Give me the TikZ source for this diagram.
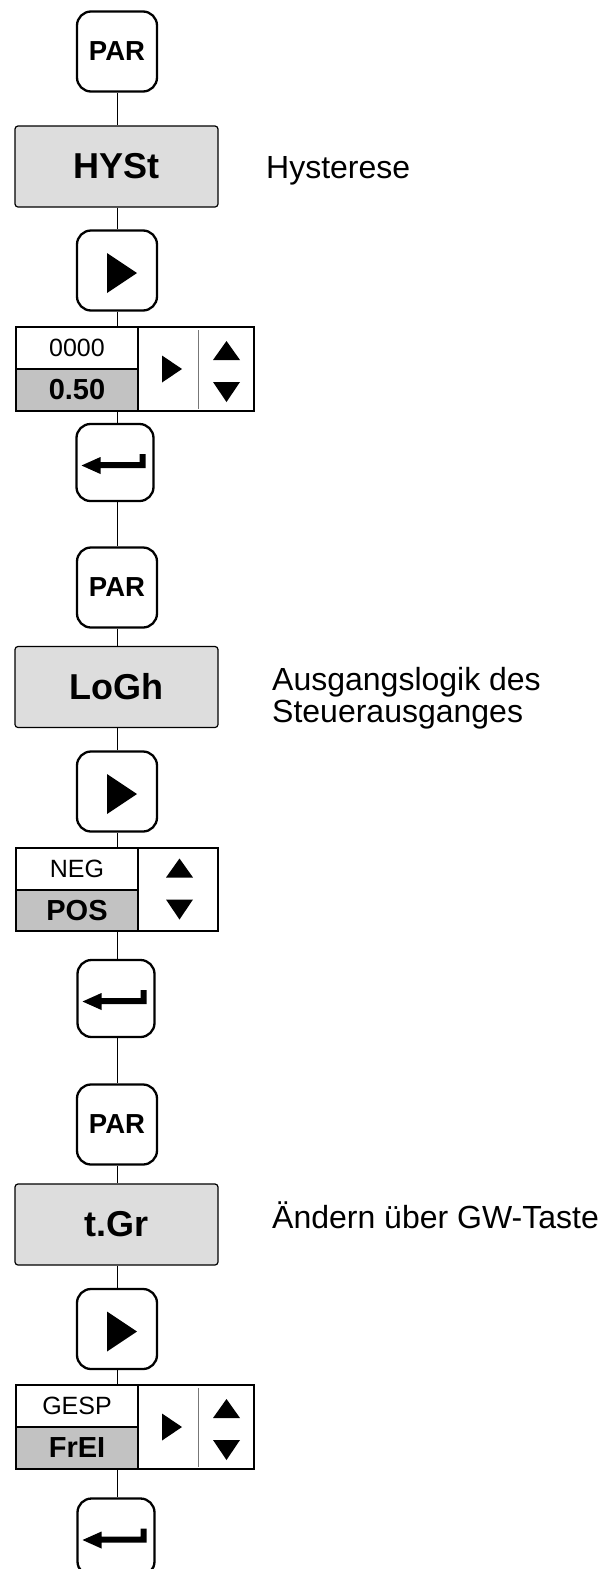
\documentclass[tikz,border=0pt]{standalone}
\usepackage{fontspec}
\setmainfont{Liberation Sans}
\definecolor{paramgray}{HTML}{DDDDDD}
\definecolor{valgray}{HTML}{C2C2C2}
\definecolor{sepgray}{HTML}{777777}
\begin{document}
\begin{tikzpicture}[x=1pt,y=-1pt,
  key/.style={draw, line width=2.3pt, rounded corners=14pt, inner sep=0pt,
    minimum width=80pt, minimum height=80pt,
    font=\fontsize{27.5}{27.5}\selectfont\bfseries},
  enterkey/.style={key, minimum width=77pt, minimum height=77pt},
  param/.style={draw, fill=paramgray, line width=1.2pt, rounded corners=3pt,
    inner sep=0pt, minimum width=203pt, minimum height=81pt,
    font=\fontsize{36}{36}\selectfont\bfseries},
  cell/.style={draw, line width=1.2pt, inner sep=0pt, minimum width=122pt,
    minimum height=42pt, font=\fontsize{25}{25}\selectfont},
  valcell/.style={cell, fill=valgray, font=\fontsize{29}{29}\selectfont\bfseries},
  btncell/.style={draw, line width=1.2pt, inner sep=0pt, minimum height=84pt},
  conn/.style={line width=0.9pt},
  note/.style={anchor=base west, inner sep=0pt, font=\fontsize{32}{32}\selectfont},
  playtri/.pic={\fill (-10,-17.5) -- (-10,22.5) -- (20,2.5) -- cycle;},
  enterarrow/.pic={\fill (-33.5,3) -- (-14.5,-5.5) -- (-14.5,-0.5) -- (24.5,-0.5)
      -- (24.5,-8.5) -- (30.5,-8.5) -- (30.5,5.5) -- (-14.5,5.5) -- (-14.5,11.5) -- cycle;},
  smallplay/.pic={\fill (-10,-13.5) -- (-10,13.5) -- (10,0) -- cycle;},
  uptri/.pic={\fill (-13.5,9.5) -- (13.5,9.5) -- (0,-9.5) -- cycle;},
  downtri/.pic={\fill (-13.5,-10) -- (13.5,-10) -- (0,10) -- cycle;}
]
\useasboundingbox (0,0) rectangle (605,1569);
\coordinate (spine) at (117.5,0);

% ---------- Hysterese ----------
\node[key] (par1) at (117,51.5) {PAR};
\node[param] (hyst) at (116.5,166.5) {HYSt};
\node[note] (note1) at (266,178) {Hysterese};
\node[key] (play1) at (117,270.5) {};
\pic at (play1.center) {playtri};
\node[cell] (top1) at (77,348) {0000};
\node[valcell] (val1) at (77,390) {0.50};
\node[btncell, minimum width=116pt] (btn1) at (196,369) {};
\draw[sepgray, line width=1pt] ([xshift=2pt,yshift=-4pt]btn1.north) -- ([xshift=2pt,yshift=3pt]btn1.south);
\pic at ([xshift=-24pt]btn1.center) {smallplay};
\pic at ([xshift=30.5pt,yshift=18.5pt]btn1.center) {uptri};
\pic at ([xshift=30.5pt,yshift=-23pt]btn1.center) {downtri};
\node[enterkey] (ent1) at (115,462.5) {};
\pic at (ent1.center) {enterarrow};

% ---------- Ausgangslogik ----------
\node[key] (par2) at (117,587.5) {PAR};
\node[param] (logh) at (116.5,687) {LoGh};
\node[note] (note2) at (272,690) {Ausgangslogik des};
\node[note] (note2b) at (272,722) {Steuerausganges};
\node[key] (play2) at (117,791.5) {};
\pic at (play2.center) {playtri};
\node[cell] (top2) at (77,869) {NEG};
\node[valcell, minimum height=41pt] (val2) at (77,910.5) {POS};
\node[btncell, minimum width=80pt, minimum height=83pt] (btn2) at (178,889.5) {};
\pic at ([xshift=1.5pt,yshift=21.5pt]btn2.center) {uptri};
\pic at ([xshift=1.5pt,yshift=-20pt]btn2.center) {downtri};
\node[enterkey] (ent2) at (116,998.5) {};
\pic at (ent2.center) {enterarrow};

% ---------- Tastenfreigabe ----------
\node[key] (par3) at (117,1124.5) {PAR};
\node[param] (tgr) at (116.5,1224.5) {t.Gr};
\node[note] (note3) at (272,1228) {Ändern über GW-Taste};
\node[key] (play3) at (117,1329) {};
\pic at (play3.center) {playtri};
\node[cell] (top3) at (77,1406) {GESP};
\node[valcell] (val3) at (77,1448) {FrEI};
\node[btncell, minimum width=116pt] (btn3) at (196,1427) {};
\draw[sepgray, line width=1pt] ([xshift=2pt,yshift=-4pt]btn3.north) -- ([xshift=2pt,yshift=3pt]btn3.south);
\pic at ([xshift=-24pt]btn3.center) {smallplay};
\pic at ([xshift=30.5pt,yshift=18.5pt]btn3.center) {uptri};
\pic at ([xshift=30.5pt,yshift=-23pt]btn3.center) {downtri};
\node[enterkey] (ent3) at (116,1537) {};
\pic at (ent3.center) {enterarrow};

% ---------- connectors ----------
\foreach \a/\b in {par1/hyst, hyst/play1, play1/top1, val1/ent1, ent1/par2,
                   par2/logh, logh/play2, play2/top2, val2/ent2, ent2/par3,
                   par3/tgr, tgr/play3, play3/top3, val3/ent3}
  \draw[conn] (\a.south -| spine) -- (\b.north -| spine);
\end{tikzpicture}
\end{document}
